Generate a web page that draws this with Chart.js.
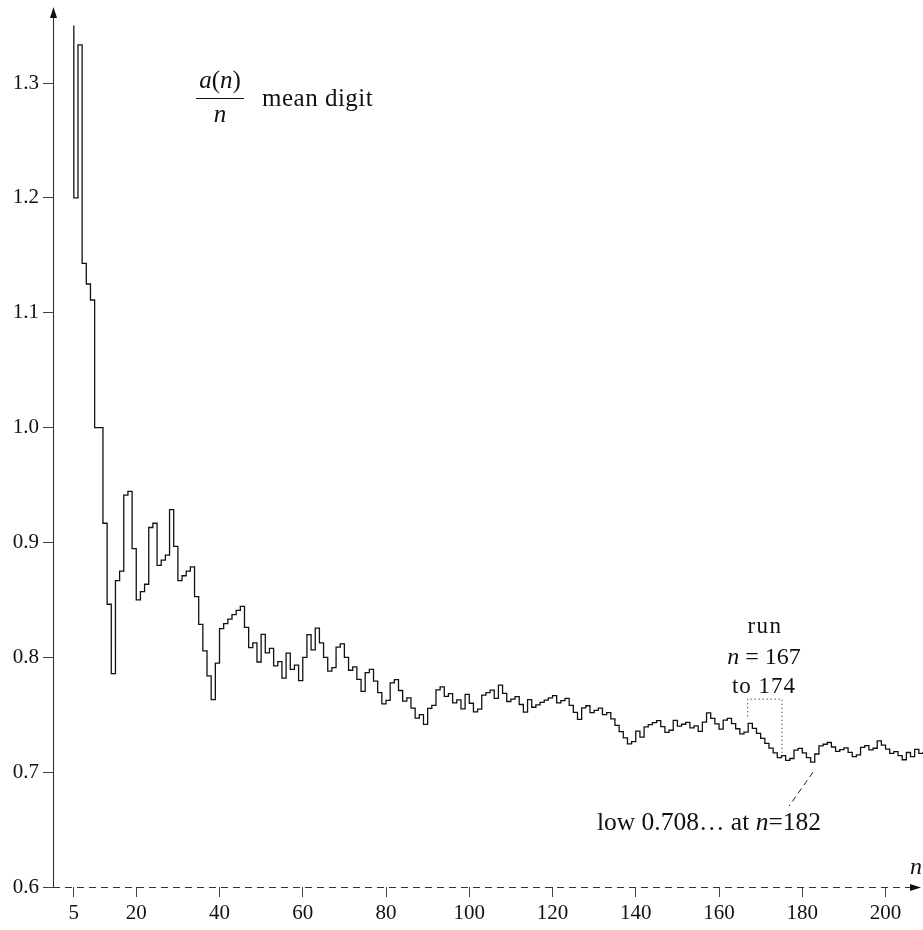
<!DOCTYPE html>
<html>
<head>
<meta charset="utf-8">
<script src="https://cdn.jsdelivr.net/npm/chart.js@4/dist/chart.umd.min.js"></script>
<style>
  html, body { margin: 0; padding: 0; background: #fff; }
  #wrap { width: 923px; height: 930px; }
</style>
</head>
<body>
<div id="wrap"><canvas id="c" width="923" height="930"></canvas></div>
<script>
// ---- data ----
const nFirst = 4;               // first n of the series (its value is above the top of the plot)
const meanDigit = [
  1.5, 1.2, 1.3333, 1.1429, 1.125, 1.1111, 1.0, 1.0, 0.9167, 0.8462,
  0.7857, 0.8667, 0.875, 0.9412, 0.9444, 0.8947, 0.85, 0.8571, 0.8636, 0.9130,
  0.9167, 0.88, 0.8846, 0.8889, 0.9286, 0.8966, 0.8667, 0.8710, 0.875, 0.8788,
  0.8529, 0.8286, 0.8056, 0.7838, 0.7632, 0.7949, 0.825, 0.8293, 0.8333, 0.8372,
  0.8409, 0.8444, 0.8261, 0.8085, 0.8125, 0.7959, 0.82, 0.8039, 0.8077, 0.7925,
  0.7963, 0.7818, 0.8036, 0.7895, 0.7931, 0.7797, 0.8, 0.8197, 0.8065, 0.8254,
  0.8125, 0.8, 0.7879, 0.7910, 0.8088, 0.8116, 0.8, 0.7887, 0.7917, 0.7808,
  0.7703, 0.7867, 0.7895, 0.7792, 0.7692, 0.7595, 0.7625, 0.7778, 0.7805, 0.7711,
  0.7619, 0.7647, 0.7558, 0.7471, 0.75, 0.7416, 0.7556, 0.7582, 0.7717, 0.7742,
  0.7660, 0.7684, 0.7604, 0.7629, 0.7551, 0.7677, 0.76, 0.7525, 0.7549, 0.7670,
  0.7692, 0.7714, 0.7642, 0.7757, 0.7685, 0.7615, 0.7636, 0.7658, 0.7589, 0.7522,
  0.7632, 0.7565, 0.7586, 0.7607, 0.7627, 0.7647, 0.7667, 0.7603, 0.7623, 0.7642,
  0.7581, 0.752, 0.7460, 0.7559, 0.7578, 0.7519, 0.7538, 0.7557, 0.75, 0.7519,
  0.7463, 0.7407, 0.7353, 0.7299, 0.7246, 0.7266, 0.7357, 0.7305, 0.7394, 0.7413,
  0.7431, 0.7448, 0.7397, 0.7347, 0.7365, 0.7450, 0.74, 0.7417, 0.7434, 0.7386,
  0.7403, 0.7355, 0.7436, 0.7516, 0.7468, 0.7421, 0.7375, 0.7453, 0.7469, 0.7423,
  0.7378, 0.7333, 0.7349, 0.7425, 0.7381, 0.7337, 0.7294, 0.7251, 0.7209, 0.7168,
  0.7126, 0.7143, 0.7102, 0.7119, 0.7191, 0.7207, 0.7167, 0.7127, 0.7088, 0.7158,
  0.7228, 0.7243, 0.7258, 0.7219, 0.7181, 0.7196, 0.7211, 0.7173, 0.7135, 0.7150,
  0.7216, 0.7231, 0.7194, 0.7208, 0.7273, 0.7236, 0.72, 0.7164, 0.7178, 0.7143,
  0.7108, 0.7171, 0.7136, 0.7198, 0.7163, 0.7177
];
const xTicks = [5, 20, 40, 60, 80, 100, 120, 140, 160, 180, 200];
const yTicks = [0.6, 0.7, 0.8, 0.9, 1.0, 1.1, 1.2, 1.3];
const xRange = [0, 209];
const yRange = [0.6, 1.35];
const runFrom = 167, runTo = 174, runBoxTop = 0.764;
const lowN = 182;

const points = meanDigit.map((v, i) => ({ x: nFirst + i, y: v }));
const valAt = n => meanDigit[n - nFirst];

const SERIF = '"Liberation Serif", "DejaVu Serif", serif';

const overlay = {
  id: 'overlay',
  afterDraw(chart) {
    const { ctx, chartArea: ca, scales: { x, y } } = chart;
    ctx.save();
    // y axis with arrow
    ctx.strokeStyle = '#333';
    ctx.lineWidth = 1.1;
    ctx.beginPath();
    ctx.moveTo(ca.left + 0.5, ca.bottom);
    ctx.lineTo(ca.left + 0.5, 16);
    ctx.stroke();
    ctx.fillStyle = '#111';
    ctx.beginPath();
    ctx.moveTo(ca.left + 0.5, 7);
    ctx.lineTo(ca.left - 3, 18);
    ctx.lineTo(ca.left + 4, 18);
    ctx.closePath();
    ctx.fill();
    // x axis dashed with arrow
    ctx.setLineDash([7, 5]);
    ctx.beginPath();
    ctx.moveTo(ca.left, ca.bottom + 0.5);
    ctx.lineTo(910, ca.bottom + 0.5);
    ctx.stroke();
    ctx.setLineDash([]);
    ctx.beginPath();
    ctx.moveTo(921, ca.bottom + 0.5);
    ctx.lineTo(910, ca.bottom - 3);
    ctx.lineTo(910, ca.bottom + 4);
    ctx.closePath();
    ctx.fill();

    ctx.fillStyle = '#111';
    ctx.textBaseline = 'alphabetic';
    // axis label n
    ctx.font = 'italic 24px ' + SERIF;
    ctx.textAlign = 'center';
    ctx.fillText('n', 916, 874);

    // legend: a(n)/n  mean digit
    const cx = 220;
    const parts = [['a', true], ['(', false], ['n', true], [')', false]];
    ctx.textAlign = 'left';
    let w = 0;
    parts.forEach(([t, it]) => { ctx.font = (it ? 'italic ' : '') + '25px ' + SERIF; w += ctx.measureText(t).width; });
    let px = cx - w / 2;
    parts.forEach(([t, it]) => {
      ctx.font = (it ? 'italic ' : '') + '25px ' + SERIF;
      ctx.fillText(t, px, 88);
      px += ctx.measureText(t).width;
    });
    ctx.lineWidth = 1;
    ctx.strokeStyle = '#111';
    ctx.beginPath();
    ctx.moveTo(196, 98.5);
    ctx.lineTo(244, 98.5);
    ctx.stroke();
    ctx.font = 'italic 25px ' + SERIF;
    ctx.textAlign = 'center';
    ctx.fillText('n', cx, 122);
    ctx.font = '25px ' + SERIF;
    ctx.textAlign = 'left';
    ctx.letterSpacing = '0.5px';
    ctx.fillText('mean digit', 262, 106);
    ctx.letterSpacing = '0px';

    // run annotation
    ctx.textAlign = 'center';
    ctx.font = '23px ' + SERIF;
    ctx.letterSpacing = '1.5px';
    ctx.fillText('run', 765, 633);
    ctx.letterSpacing = '1px';
    ctx.fillText('to 174', 764, 693);
    ctx.letterSpacing = '0px';
    // "n = 167"
    ctx.font = 'italic 24px ' + SERIF;
    const nW = ctx.measureText('n').width;
    ctx.font = '24px ' + SERIF;
    const restW = ctx.measureText(' = 167').width;
    let sx = 764 - (nW + restW) / 2;
    ctx.textAlign = 'left';
    ctx.font = 'italic 24px ' + SERIF;
    ctx.fillText('n', sx, 664);
    ctx.font = '24px ' + SERIF;
    ctx.fillText(' = 167', sx + nW, 664);

    // dotted run box
    const bx0 = x.getPixelForValue(runFrom) - 1;
    const bx1 = x.getPixelForValue(runTo + 1);
    const by = y.getPixelForValue(runBoxTop);
    ctx.strokeStyle = '#555';
    ctx.lineWidth = 1;
    ctx.setLineDash([1.5, 2.5]);
    ctx.beginPath();
    ctx.moveTo(bx0 + 0.5, y.getPixelForValue(valAt(runFrom)) - 7);
    ctx.lineTo(bx0 + 0.5, by + 0.5);
    ctx.lineTo(bx1 + 0.5, by + 0.5);
    ctx.lineTo(bx1 + 0.5, y.getPixelForValue(valAt(runTo)));
    ctx.stroke();

    // low leader (dashed)
    const lx = x.getPixelForValue(lowN + 0.6);
    const ly = y.getPixelForValue(valAt(lowN)) + 10;
    ctx.strokeStyle = '#222';
    ctx.setLineDash([6, 4]);
    ctx.beginPath();
    ctx.moveTo(lx, ly);
    ctx.lineTo(lx - 24, ly + 34);
    ctx.stroke();
    ctx.setLineDash([]);

    // low text
    ctx.fillStyle = '#111';
    const seg = [['low 0.708\u2026 at ', false], ['n', true], ['=182', false]];
    let tw = 0;
    seg.forEach(([t, it]) => { ctx.font = (it ? 'italic ' : '') + '25.5px ' + SERIF; tw += ctx.measureText(t).width; });
    let tx = 709 - tw / 2;
    seg.forEach(([t, it]) => {
      ctx.font = (it ? 'italic ' : '') + '25.5px ' + SERIF;
      ctx.fillText(t, tx, 830);
      tx += ctx.measureText(t).width;
    });
    ctx.restore();
  }
};

new Chart(document.getElementById('c'), {
  type: 'line',
  data: {
    datasets: [{
      data: points,
      borderColor: '#111',
      borderWidth: 1.3,
      pointRadius: 0,
      stepped: true,
      fill: false
    }]
  },
  options: {
    responsive: false,
    animation: false,
    devicePixelRatio: 1,
    layout: { padding: { top: 25.6, right: 0, left: 0, bottom: 0 } },
    plugins: { legend: { display: false }, tooltip: { enabled: false } },
    scales: {
      x: {
        type: 'linear',
        min: xRange[0], max: xRange[1],
        afterBuildTicks: s => { s.ticks = xTicks.map(v => ({ value: v })); },
        afterFit: s => { s.height = 43; },
        grid: { drawOnChartArea: false, drawTicks: true, tickLength: 10, color: '#444', lineWidth: 1 },
        border: { display: false },
        ticks: {
          autoSkip: false, maxRotation: 0, padding: 4,
          color: '#111',
          font: { family: SERIF, size: 21 },
          callback: v => String(v)
        }
      },
      y: {
        type: 'linear',
        min: yRange[0], max: yRange[1],
        afterBuildTicks: s => { s.ticks = yTicks.map(v => ({ value: v })); },
        afterFit: s => { s.width = 53; },
        grid: { drawOnChartArea: false, drawTicks: true, tickLength: 10, color: '#444', lineWidth: 1 },
        border: { display: false },
        ticks: {
          padding: 4,
          color: '#111',
          font: { family: SERIF, size: 21 },
          callback: v => Number(v).toFixed(1)
        }
      }
    }
  },
  plugins: [overlay]
});
</script>
</body>
</html>
